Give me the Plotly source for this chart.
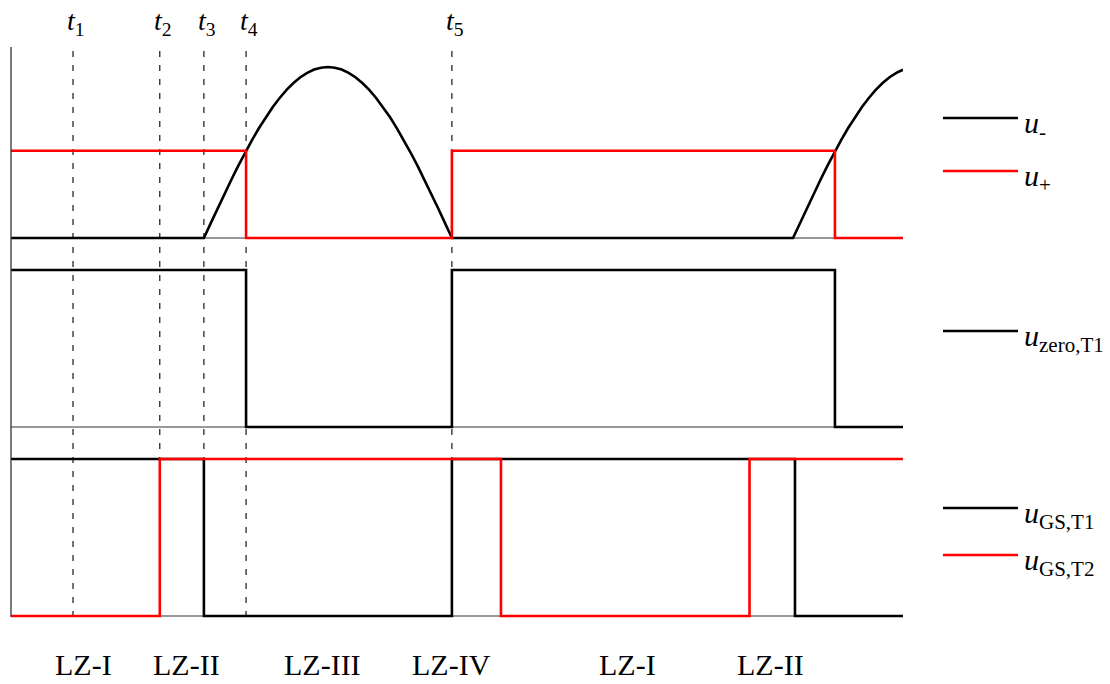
import plotly.graph_objects as go

# ---------------- data (time axis in electrical degrees) ----------------
t_names = ["1", "2", "3", "4", "5"]
t_values = [45.0, 108.0, 140.0, 170.6, 320.0]
x_end = 647.4

# u_- (normalised, panel 1) – points read along the half-wave humps
u_minus_x = [0, 140, 145, 150, 155, 160, 165, 170, 175, 180, 185, 190, 195, 200,
             205, 210, 215, 220, 225, 230, 235, 240, 245, 250, 255, 260, 265, 270,
             275, 280, 285, 290, 295, 300, 305, 310, 315, 320,
             567.6, 572.6, 577.6, 582.6, 587.6, 592.6, 597.6, 602.6, 607.6, 612.6,
             617.6, 622.6, 627.6, 632.6, 637.6, 642.6, 647.4]
u_minus_y = [0, 0, 0.087, 0.174, 0.259, 0.342, 0.423, 0.5, 0.574, 0.643, 0.707,
             0.766, 0.819, 0.866, 0.906, 0.94, 0.966, 0.985, 0.996, 1.0, 0.996,
             0.985, 0.966, 0.94, 0.906, 0.866, 0.819, 0.766, 0.707, 0.643, 0.574,
             0.5, 0.423, 0.342, 0.259, 0.174, 0.087, 0,
             0, 0.087, 0.174, 0.259, 0.342, 0.423, 0.5, 0.574, 0.643, 0.707,
             0.766, 0.819, 0.866, 0.906, 0.94, 0.966, 0.984]

# u_+ (step, panel 1)
u_plus_x = [0, 170.6, 320, 598, 647.4]
u_plus_y = [0.51, 0, 0.51, 0, 0]

# u_zero,T1 (panel 2)
u_zero_x = [0, 170.6, 320, 598, 647.4]
u_zero_y = [1, 0, 1, 0, 0]

# u_GS,T1 and u_GS,T2 (panel 3)
u_gs1_x = [0, 140, 320, 569, 647.4]
u_gs1_y = [1, 0, 1, 0, 0]
u_gs2_x = [0, 108, 355.6, 536, 647.4]
u_gs2_y = [0, 1, 0, 1, 1]

# region labels
lz_labels = ["LZ-I", "LZ-II", "LZ-III", "LZ-IV", "LZ-I", "LZ-II"]
lz_centers = [52.3, 127.7, 226.4, 320.0, 447.8, 550.9]

# legend entries
legend_labels = ["<i>u</i><sub>-</sub>", "<i>u</i><sub>+</sub>",
                 "<i>u</i><sub>zero,T1</sub>", "<i>u</i><sub>GS,T1</sub>",
                 "<i>u</i><sub>GS,T2</sub>"]
legend_colors = ["black", "red", "black", "black", "red"]

# ---------------- figure ----------------
W, H = 1110, 684
BLACK = "#000000"
RED = "#ff0000"
FONT = "Liberation Serif"


def py(px):
    return 1 - px / H


def px_x(px):
    return px / W


fig = go.Figure()
lw = 2.6
fig.add_trace(go.Scatter(x=u_minus_x, y=u_minus_y, mode="lines",
                         line=dict(color=BLACK, width=lw), xaxis="x", yaxis="y"))
fig.add_trace(go.Scatter(x=u_plus_x, y=u_plus_y, mode="lines", line_shape="hv",
                         line=dict(color=RED, width=lw), xaxis="x", yaxis="y"))
fig.add_trace(go.Scatter(x=u_zero_x, y=u_zero_y, mode="lines", line_shape="hv",
                         line=dict(color=BLACK, width=lw), xaxis="x", yaxis="y2"))
fig.add_trace(go.Scatter(x=u_gs1_x, y=u_gs1_y, mode="lines", line_shape="hv",
                         line=dict(color=BLACK, width=lw), xaxis="x", yaxis="y3"))
fig.add_trace(go.Scatter(x=u_gs2_x, y=u_gs2_y, mode="lines", line_shape="hv",
                         line=dict(color=RED, width=lw), xaxis="x", yaxis="y3"))


def yax(top_px, bot_px, base_px, one_px):
    scale = base_px - one_px
    return dict(domain=[py(bot_px), py(top_px)],
                range=[(base_px - bot_px) / scale, (base_px - top_px) / scale],
                visible=False, fixedrange=True)


shapes = []
shapes.append(dict(type="line", xref="paper", yref="paper",
                   x0=px_x(11), x1=px_x(11), y0=py(47), y1=py(617),
                   line=dict(color="#333333", width=1.3)))
for yref in ["y", "y2", "y3"]:
    shapes.append(dict(type="line", xref="x", yref=yref, x0=0, x1=x_end, y0=0, y1=0,
                       line=dict(color="#333333", width=1.2), layer="below"))
for tv in t_values:
    shapes.append(dict(type="line", xref="x", yref="paper", x0=tv, x1=tv,
                       y0=py(617), y1=py(45),
                       line=dict(color=BLACK, width=1.1, dash="6px,8px"), layer="below"))

annotations = []
for name, tv in zip(t_names, t_values):
    annotations.append(dict(xref="x", yref="paper", x=tv + 2, y=py(22),
                            text="<i>t</i><sub>%s</sub>" % name, showarrow=False,
                            xanchor="center", yanchor="middle",
                            font=dict(family=FONT, size=28, color=BLACK)))
for lab, cx in zip(lz_labels, lz_centers):
    annotations.append(dict(xref="x", yref="paper", x=cx, y=py(664), text=lab,
                            showarrow=False, xanchor="center", yanchor="middle",
                            font=dict(family=FONT, size=30, color=BLACK)))

legend_rows = [118, 171, 331, 508, 555]
for lab, col, row in zip(legend_labels, legend_colors, legend_rows):
    shapes.append(dict(type="line", xref="paper", yref="paper",
                       x0=px_x(943), x1=px_x(1018), y0=py(row), y1=py(row),
                       line=dict(color=col, width=2.4)))
    annotations.append(dict(xref="paper", yref="paper", x=px_x(1022), y=py(row + 7),
                            text=lab, showarrow=False, xanchor="left", yanchor="middle",
                            font=dict(family=FONT, size=30, color=BLACK)))

fig.update_layout(
    width=W, height=H, margin=dict(l=0, r=0, t=0, b=0),
    paper_bgcolor="white", plot_bgcolor="rgba(0,0,0,0)", showlegend=False,
    xaxis=dict(domain=[px_x(11), px_x(903)], range=[0, x_end], visible=False,
               fixedrange=True),
    yaxis=yax(47, 245, 238, 67),
    yaxis2=yax(255, 432, 427, 270),
    yaxis3=yax(445, 621, 616, 459),
    shapes=shapes, annotations=annotations,
)

fig.write_html("out.html", post_script="document.body.style.margin='0';",
               config={"displayModeBar": False})
